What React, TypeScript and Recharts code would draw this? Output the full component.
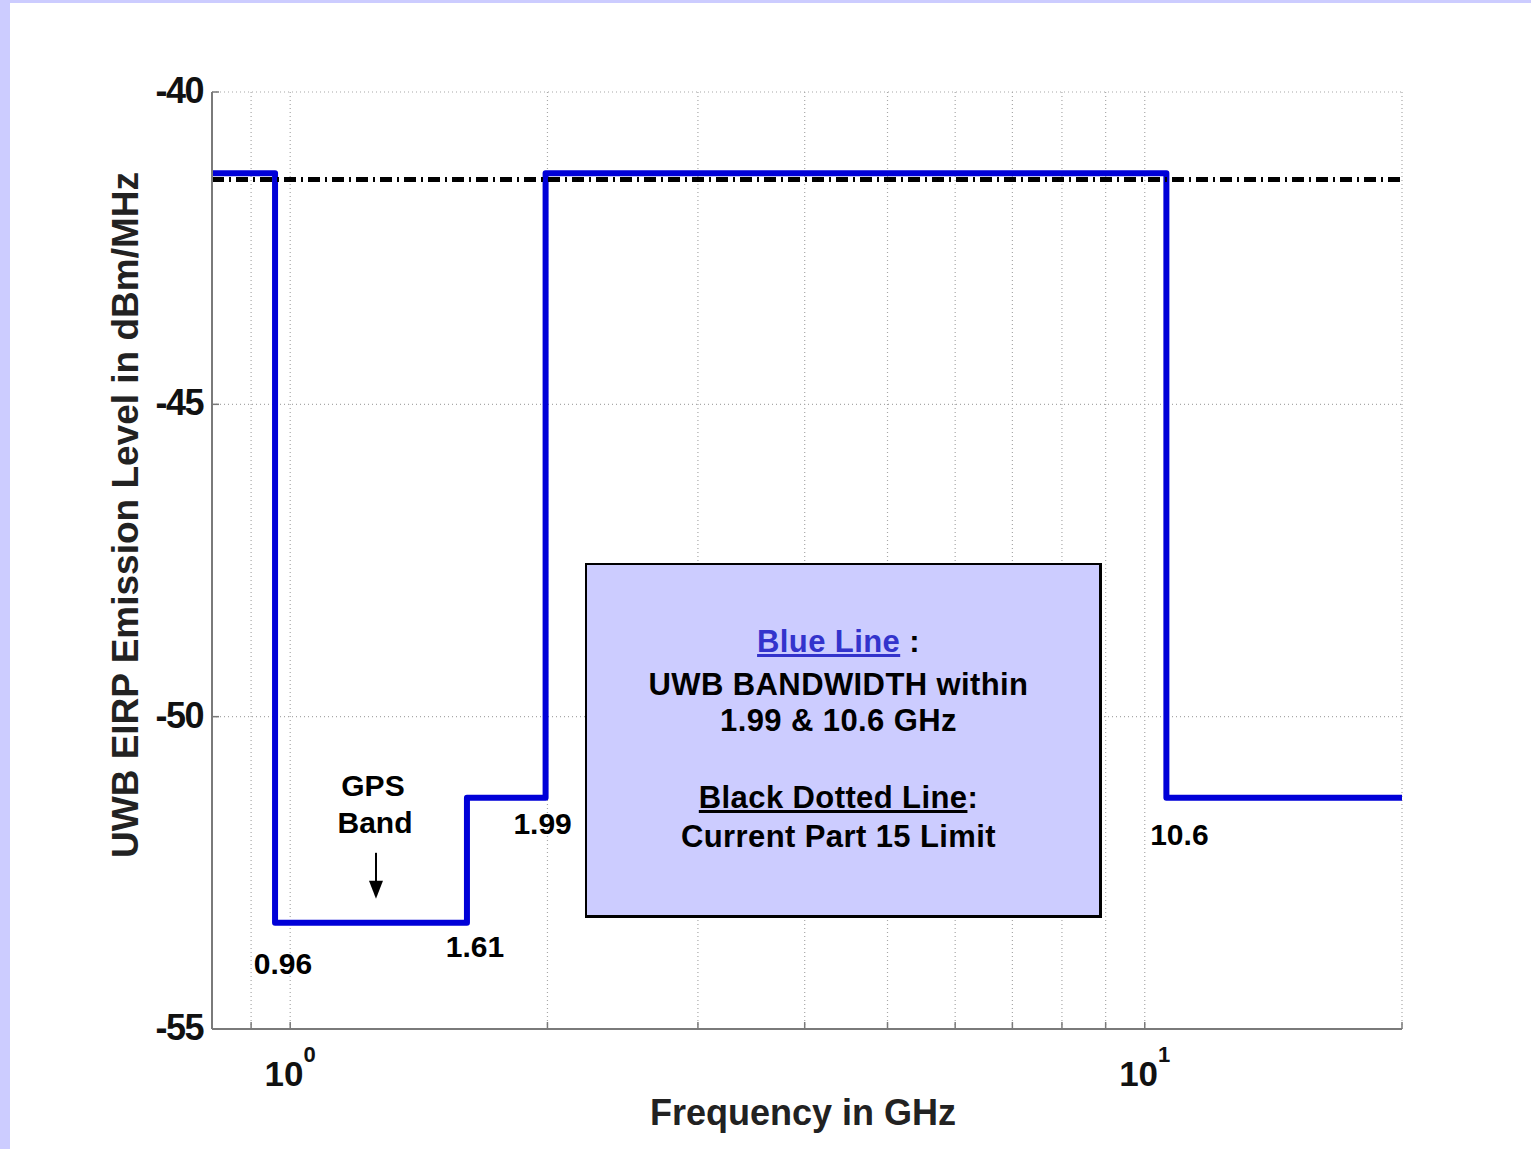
import {Line, LineChart, XAxis, YAxis, CartesianGrid, ReferenceDot} from 'recharts';

// UWB indoor emission mask, frequency in GHz, level in dBm/MHz
const maskEdges = [0.81, 0.96, 1.61, 1.99, 10.6, 20];
const maskLevels = [-41.3, -53.3, -51.3, -41.3, -51.3];

// current Part 15 limit
const limitFreq = [0.81, 20];
const limitLevel = [-41.4, -41.4];

const xTicks = [0.9, 1, 2, 3, 4, 5, 6, 7, 8, 9, 10, 20];
const yTicks = [-55, -50, -45, -40];

const cornerFreq = [0.96, 1.61, 1.99, 10.6];
const cornerLevel = [-53.3, -53.3, -51.3, -51.3];
const cornerText = ['0.96', '1.61', '1.99', '10.6'];
const cornerOffset = [[8, 51], [8, 34], [-3, 36], [13, 47]];

const FONT = '"Liberation Sans", Arial, Helvetica, sans-serif';

const maskData: {x: number; y: number}[] = [];
maskLevels.forEach((lvl, i) => {
    maskData.push({x: maskEdges[i], y: lvl});
    maskData.push({x: maskEdges[i + 1], y: lvl});
});
const limitData = limitFreq.map((f, i) => ({x: f, y: limitLevel[i]}));

const XTick = (props: any) => {
    const {x, y, payload} = props;
    const v = payload.value;
    const exp = v === 1 ? '0' : v === 10 ? '1' : null;
    return (
        <g>
            <line x1={x} x2={x} y1={y} y2={y - 7} stroke="#7a7a7a" strokeWidth={1.5}/>
            {exp !== null && (
                <text x={x} y={y + 57} textAnchor="middle" fontFamily={FONT} fontWeight="bold" fontSize={35}
                      fill="#111">
                    <tspan>10</tspan>
                    <tspan dy={-24} fontSize={22}>{exp}</tspan>
                </text>
            )}
        </g>
    );
};

const YTick = (props: any) => {
    const {x, y, payload} = props;
    return (
        <g>
            <line x1={x} x2={x + 7} y1={y} y2={y} stroke="#7a7a7a" strokeWidth={1.5}/>
            <text x={x - 9} y={y + 11} textAnchor="end" fontFamily={FONT} fontWeight="bold" fontSize={36}
                  letterSpacing={-1.5} fill="#111">
                {payload.value}
            </text>
        </g>
    );
};

const cornerLabel = (text: string, dx: number, dy: number) => (p: any) => (
    <text x={p.viewBox.x + dx} y={p.viewBox.y + dy} textAnchor="middle" fontFamily={FONT} fontWeight="bold"
          fontSize={30} fill="#000">
        {text}
    </text>
);

const gpsLabel = (p: any) => {
    const cx = p.viewBox.x;
    const cy = p.viewBox.y;
    return (
        <g>
            <text x={cx - 3} y={cy - 127} textAnchor="middle" fontFamily={FONT} fontWeight="bold" fontSize={30}
                  fill="#000">GPS</text>
            <text x={cx - 1} y={cy - 90} textAnchor="middle" fontFamily={FONT} fontWeight="bold" fontSize={30}
                  fill="#000">Band</text>
            <line x1={cx} x2={cx} y1={cy - 70} y2={cy - 40} stroke="#000" strokeWidth={2}/>
            <polygon points={`${cx - 7},${cy - 42} ${cx + 7},${cy - 42} ${cx},${cy - 24}`} fill="#000"/>
        </g>
    );
};

const legendLine = (top: number, content: any) => (
    <div style={{
        position: 'absolute', left: 0, width: '100%', top, height: 38, lineHeight: '38px',
        textAlign: 'center', fontFamily: FONT, fontWeight: 'bold', fontSize: 31, color: '#000',
        letterSpacing: 0.4, paddingRight: 9, boxSizing: 'border-box'
    }}>
        {content}
    </div>
);

export default function App() {
    return (
        <div style={{position: 'absolute', left: 0, top: 0, width: 1531, height: 1149, background: '#ccccff'}}>
            <div style={{position: 'absolute', left: 10, top: 3, right: 0, bottom: 0, background: '#fff'}}/>
            <div style={{position: 'absolute', left: 0, top: 0}}>
                <LineChart width={1531} height={1149} margin={{top: 92, left: 211, right: 129, bottom: 119}}>
                    <CartesianGrid stroke="#a8a8a8" strokeDasharray="1 3" strokeWidth={1.2}
                                   horizontalValues={yTicks} verticalValues={xTicks}/>
                    <XAxis dataKey="x" type="number" scale="log" domain={[0.81, 20]} allowDataOverflow
                           ticks={xTicks} interval={0} tickSize={0} tickMargin={0} tickLine={false}
                           height={1} tick={<XTick/>} stroke="#7a7a7a" strokeWidth={2}/>
                    <YAxis type="number" domain={[-55, -40]} ticks={yTicks} interval={0} tickSize={0}
                           tickMargin={0} tickLine={false} width={1} tick={<YTick/>} stroke="#7a7a7a"
                           strokeWidth={2} allowDataOverflow/>
                    <Line data={maskData} dataKey="y" stroke="#0000d8" strokeWidth={6} dot={false}
                          strokeLinejoin="round" strokeLinecap="round" isAnimationActive={false}/>
                    <Line data={limitData} dataKey="y" stroke="#000" strokeWidth={5} dot={false}
                          strokeDasharray="12 5 2 5" isAnimationActive={false}/>
                    {cornerFreq.map((f, i) => (
                        <ReferenceDot key={cornerText[i]} x={f} y={cornerLevel[i]} r={0} fill="none"
                                      stroke="none"
                                      label={cornerLabel(cornerText[i], cornerOffset[i][0], cornerOffset[i][1])}/>
                    ))}
                    <ReferenceDot x={1.26} y={-53.3} r={0} fill="none" stroke="none" label={gpsLabel}/>
                </LineChart>
            </div>
            <svg width={1531} height={1149} style={{position: 'absolute', left: 0, top: 0, pointerEvents: 'none'}}>
                <text x={803} y={1125} textAnchor="middle" fontFamily={FONT} fontWeight="bold" fontSize={36}
                      fill="#222">Frequency in GHz</text>
                <text transform="translate(138 515) rotate(-90)" textAnchor="middle" fontFamily={FONT}
                      fontWeight="bold" fontSize={37} fill="#222">UWB EIRP Emission Level in dBm/MHz</text>
            </svg>
            <div style={{
                position: 'absolute', left: 585, top: 563, width: 512, height: 350, background: '#ccccff',
                border: '2px solid #000', borderRightWidth: 3, borderBottomWidth: 3
            }}>
                {legendLine(58, <span><span style={{color: '#3333cc', textDecoration: 'underline'}}>Blue Line</span> :</span>)}
                {legendLine(101, 'UWB BANDWIDTH within')}
                {legendLine(137, '1.99 & 10.6 GHz')}
                {legendLine(214, <span><span style={{textDecoration: 'underline'}}>Black Dotted Line</span>:</span>)}
                {legendLine(253, 'Current Part 15 Limit')}
            </div>
        </div>
    );
}
